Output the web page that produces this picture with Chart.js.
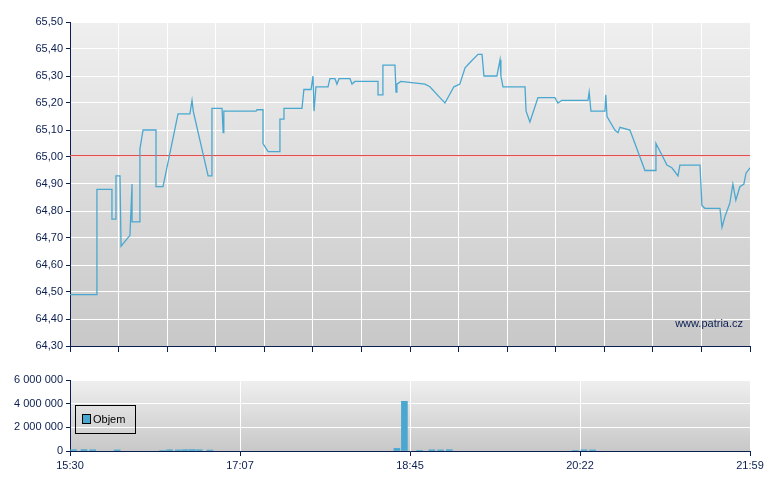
<!DOCTYPE html>
<html>
<head>
<meta charset="utf-8">
<script src="https://cdn.jsdelivr.net/npm/chart.js@4"></script>
<style>
body{margin:0;background:#fff;}
#wrap1{position:absolute;left:0;top:0;width:780px;height:360px;}
#wrap2{position:absolute;left:0;top:360px;width:780px;height:130px;}
</style>
</head>
<body>
<div id="wrap1"><canvas id="priceChart"></canvas></div>
<div id="wrap2"><canvas id="volChart"></canvas></div>
<script>
// minutes since 15:30
const priceMinutes = [0,15.4,15.4,24,24,26.3,26.3,28.6,29.2,34.3,34.3,35.5,35.5,40,40,41.8,49.2,49.2,53.2,61.8,68.6,69.8,70.5,79,81.2,81.2,87,87.6,88,106.4,107,110.4,110.4,113.3,120.1,120.1,122.4,122.4,132.7,133.8,137.9,139,139.6,140.7,147.6,148.7,151.6,152.7,153.9,160.2,161.3,163,176.2,176.2,179,179,185.9,186.5,187,189.3,203,205.9,211.6,214.5,219.6,223,226,228.8,233.4,235.7,236.8,244.2,246,246.5,247.7,260.3,260.9,263.1,267.7,277.4,279.1,281.4,296.3,297,298,306,306.5,307.2,311.7,313.5,314.6,320.3,322.6,328.9,335.2,335.2,341.5,344.3,347.8,348.9,360.4,361.5,363.2,371.8,373,374.7,376.4,377.5,379.2,380.9,383.2,385.5,386.7,389];
const priceValues = [64.49,64.49,64.88,64.88,64.77,64.77,64.93,64.93,64.67,64.71,64.71,64.90,64.76,64.76,65.03,65.10,65.10,64.89,64.89,65.16,65.16,65.21,65.17,64.93,64.93,65.18,65.18,65.09,65.17,65.17,65.175,65.175,65.05,65.02,65.02,65.14,65.14,65.18,65.18,65.25,65.25,65.30,65.17,65.26,65.26,65.29,65.29,65.27,65.29,65.29,65.27,65.28,65.28,65.23,65.23,65.34,65.34,65.24,65.27,65.28,65.27,65.26,65.22,65.20,65.26,65.27,65.33,65.35,65.38,65.38,65.30,65.30,65.36,65.30,65.26,65.26,65.17,65.13,65.22,65.22,65.20,65.21,65.21,65.24,65.17,65.17,65.23,65.15,65.10,65.09,65.11,65.10,65.06,64.95,64.95,65.05,64.97,64.96,64.93,64.97,64.97,64.82,64.81,64.81,64.74,64.78,64.81,64.83,64.90,64.84,64.89,64.90,64.94,64.96];
const refPrice = 65.005;
const volMinutes = [2,8,13,27,53,57,62,66,70,74,80,187,191.3,200,207,212,217,289,294,299];
const volValues = [110000,120000,100000,90000,40000,100000,90000,110000,120000,100000,80000,220000,4200000,30000,100000,90000,110000,50000,100000,90000];
const xLabels = ['15:30','17:07','18:45','20:22','21:59'];
const totalMin = 389;

const navy = '#0a1e50';
const bgPlugin = {
  id: 'bg',
  beforeDraw(chart) {
    const a = chart.chartArea, ctx = chart.ctx;
    const g = ctx.createLinearGradient(0, a.top, 0, a.bottom);
    g.addColorStop(0, '#efefef');
    g.addColorStop(1, '#c8c8c8');
    ctx.save();
    ctx.fillStyle = g;
    ctx.fillRect(a.left, a.top, a.right - a.left, a.bottom - a.top);
    ctx.restore();
  }
};
const markPlugin = {
  id: 'mark',
  afterDraw(chart) {
    const a = chart.chartArea, ctx = chart.ctx;
    ctx.save();
    ctx.font = '11px "Liberation Sans", Arial';
    ctx.fillStyle = navy;
    ctx.textAlign = 'right';
    ctx.fillText('www.patria.cz', a.right - 7, a.bottom - 19);
    ctx.restore();
  }
};
const legendPlugin = {
  id: 'leg',
  afterDraw(chart) {
    const ctx = chart.ctx;
    ctx.save();
    ctx.strokeStyle = '#000';
    ctx.lineWidth = 1;
    ctx.strokeRect(75.5, 45.5, 60, 28);
    ctx.fillStyle = '#4aa8d0';
    ctx.fillRect(83, 55, 7, 8);
    ctx.strokeRect(82.5, 54.5, 8, 9);
    ctx.fillStyle = '#000';
    ctx.font = '11px "Liberation Sans", Arial';
    ctx.textBaseline = 'middle';
    ctx.fillText('Objem', 93, 60);
    ctx.restore();
  }
};

const font = {family: '"Liberation Sans", Arial', size: 11};

new Chart(document.getElementById('priceChart'), {
  type: 'line',
  data: {
    datasets: [
      {data: priceMinutes.map((m, i) => ({x: m, y: priceValues[i]})), borderColor: '#4aa8d0', borderWidth: 1.3, pointRadius: 0, tension: 0},
      {data: [{x: 0, y: refPrice}, {x: totalMin, y: refPrice}], borderColor: '#e05050', borderWidth: 1.3, pointRadius: 0}
    ]
  },
  options: {
    responsive: true, maintainAspectRatio: false, animation: false,
    layout: {padding: {top: 22, right: 30, left: 0, bottom: 0}},
    plugins: {legend: {display: false}, tooltip: {enabled: false}},
    scales: {
      x: {
        type: 'linear', min: 0, max: totalMin,
        afterBuildTicks: s => { s.ticks = []; for (let i = 0; i <= 14; i++) s.ticks.push({value: totalMin * i / 14}); },
        afterFit: s => { s.height = 14; },
        ticks: {display: false},
        grid: {color: '#fff', tickColor: navy, tickLength: 6},
        border: {color: navy}
      },
      y: {
        min: 64.3, max: 65.5,
        afterFit: s => { s.width = 70; },
        ticks: {stepSize: 0.1, color: navy, font, callback: v => v.toFixed(2).replace('.', ',')},
        grid: {color: '#fff', tickColor: navy, tickLength: 4},
        border: {color: navy}
      }
    }
  },
  plugins: [bgPlugin, markPlugin]
});

new Chart(document.getElementById('volChart'), {
  type: 'bar',
  data: {
    datasets: [{data: volMinutes.map((m, i) => ({x: m, y: volValues[i]})), backgroundColor: '#4aa8d0', barThickness: 6}]
  },
  options: {
    responsive: true, maintainAspectRatio: false, animation: false,
    layout: {padding: {top: 20, right: 30, left: 0, bottom: 0}},
    plugins: {legend: {display: false}, tooltip: {enabled: false}},
    datasets: {bar: {grouped: false}},
    scales: {
      x: {
        type: 'linear', min: 0, max: totalMin, offset: false,
        afterBuildTicks: s => { s.ticks = xLabels.map((l, i) => ({value: totalMin * i / 4})); },
        afterFit: s => { s.height = 39; },
        ticks: {color: navy, font, callback: (v, i) => xLabels[i]},
        grid: {color: '#fff', tickColor: navy, tickLength: 5, offset: false},
        border: {color: navy}
      },
      y: {
        min: 0, max: 6000000,
        afterFit: s => { s.width = 70; },
        ticks: {stepSize: 2000000, color: navy, font, callback: v => v.toString().replace(/\B(?=(\d{3})+(?!\d))/g, ' ')},
        grid: {color: '#fff', tickColor: navy, tickLength: 4},
        border: {color: navy}
      }
    }
  },
  plugins: [bgPlugin, legendPlugin]
});
</script>
</body>
</html>
